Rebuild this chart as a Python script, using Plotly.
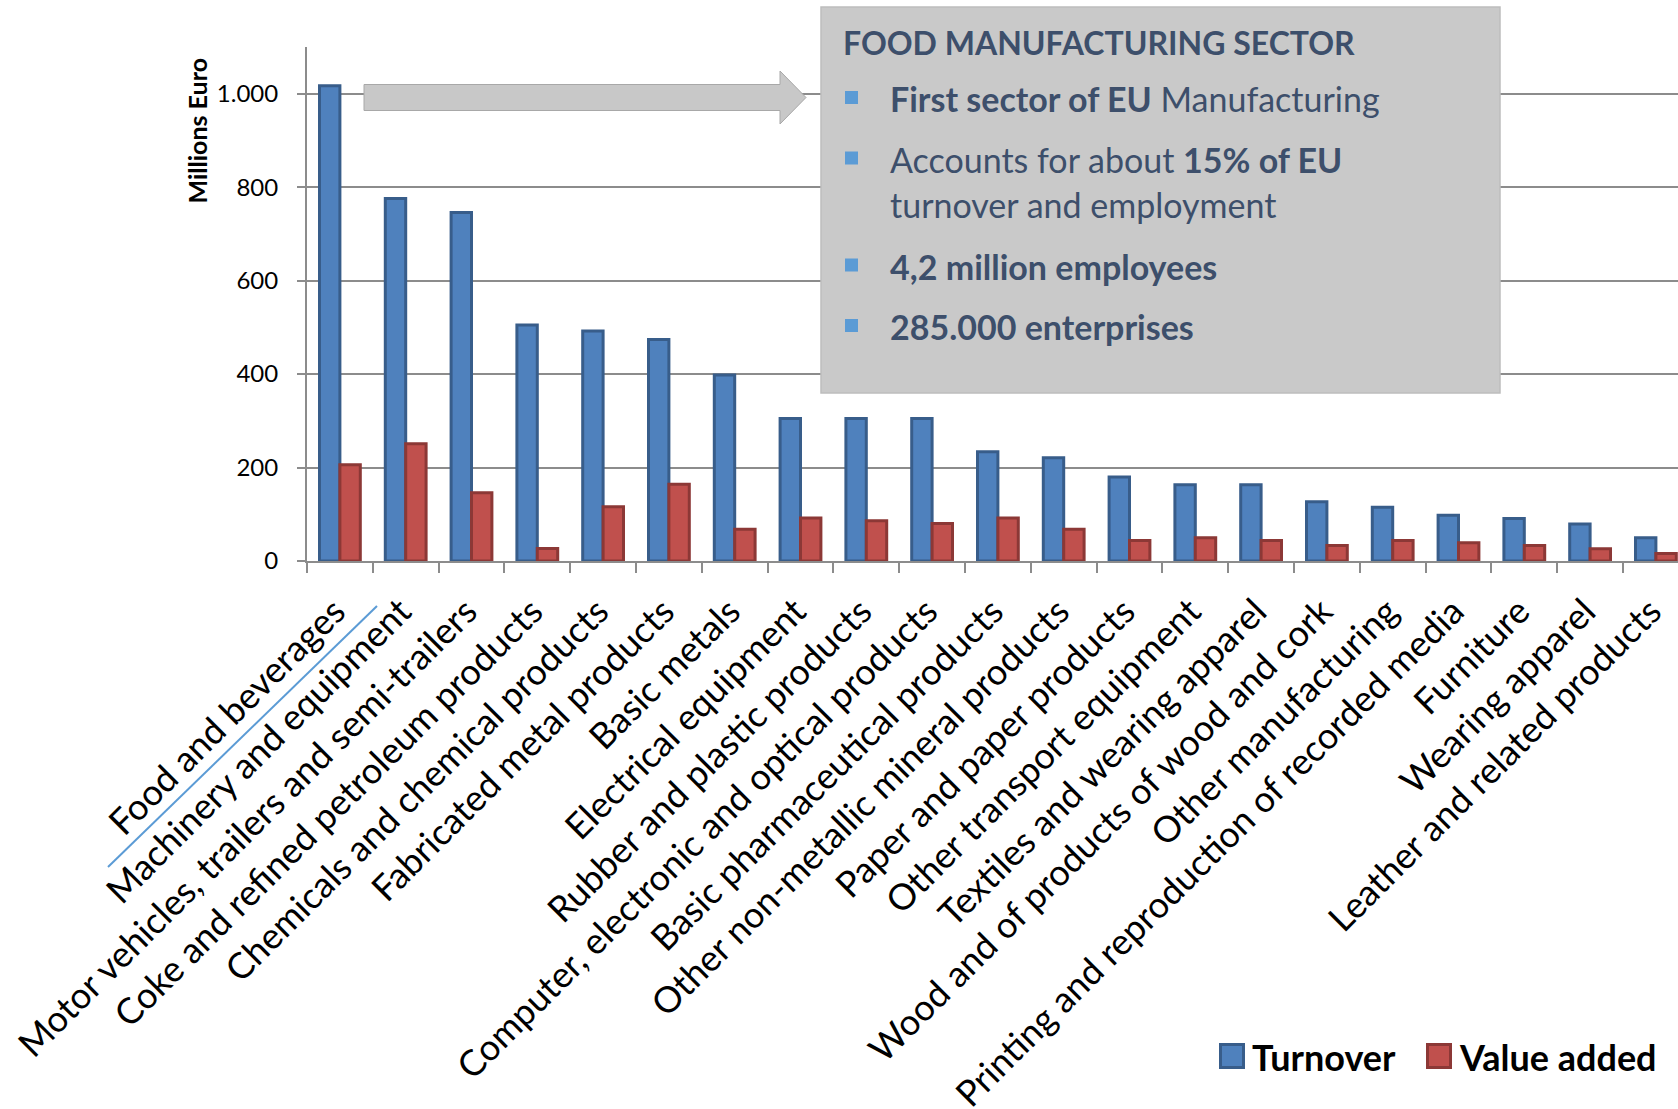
import plotly.graph_objects as go

# EU manufacturing sectors, turnover and value added (millions euro)
sectors = [
    "Food and beverages",
    "Machinery and equipment",
    "Motor vehicles, trailers and semi-trailers",
    "Coke and refined petroleum products",
    "Chemicals and chemical products",
    "Fabricated metal products",
    "Basic metals",
    "Electrical equipment",
    "Rubber and plastic products",
    "Computer, electronic and optical products",
    "Basic pharmaceutical products",
    "Other non-metallic mineral products",
    "Paper and paper products",
    "Other transport equipment",
    "Textiles and wearing apparel",
    "Wood and of products of wood and cork",
    "Other manufacturing",
    "Printing and reproduction of recorded media",
    "Furniture",
    "Wearing apparel",
    "Leather and related products",
]
turnover = [1017, 776, 746, 505, 492, 474, 398, 305, 305, 305, 234, 221,
            180, 163, 163, 127, 115, 98, 91, 79, 50]
value_added = [206, 251, 146, 27, 116, 164, 68, 92, 86, 80, 92, 68,
               44, 50, 44, 33, 44, 39, 33, 26, 16]

series_names = ["Turnover", "Value added"]
y_ticks = [0, 200, 400, 600, 800, 1000]

box_title = "FOOD MANUFACTURING SECTOR"
box_lines = [
    "<b>First sector of EU</b> Manufacturing",
    "Accounts for about <b>15% of EU</b>",
    "turnover and employment",
    "<b>4,2 million employees</b>",
    "<b>285.000 enterprises</b>",
]

BLUE, BLUE_EDGE = "#4f81bd", "#385d8a"
RED, RED_EDGE = "#c0504d", "#8c3836"
GRID = "#8c8c8c"
BOX_TEXT = "#3d4f6b"
FONT = "Lato"

W, H = 1678, 1109
L, R, T, B = 307, 1678, 47, 561


def px(x):
    return (x - L) / (R - L)


def py(y):
    return (B - y) / (B - T)


fig = go.Figure()
fig.add_trace(go.Bar(x=sectors, y=turnover, name=series_names[0],
                     marker=dict(color=BLUE, line=dict(color=BLUE_EDGE, width=3))))
fig.add_trace(go.Bar(x=sectors, y=value_added, name=series_names[1],
                     marker=dict(color=RED, line=dict(color=RED_EDGE, width=3))))

shapes = []
annotations = []

# grey block arrow pointing to the info box
ax0, ax1, ax2 = 364, 780, 806
by0, by1, hy0, hy1, ty = 84.5, 110.5, 71, 124, 97.5
path = (f"M {px(ax0)},{py(by0)} L {px(ax1)},{py(by0)} L {px(ax1)},{py(hy0)} "
        f"L {px(ax2)},{py(ty)} L {px(ax1)},{py(hy1)} L {px(ax1)},{py(by1)} "
        f"L {px(ax0)},{py(by1)} Z")
shapes.append(dict(type="path", path=path, xref="paper", yref="paper",
                   fillcolor="#c8c8c8", line=dict(color="#a8a8a8", width=1),
                   layer="above"))

# info box
shapes.append(dict(type="rect", xref="paper", yref="paper",
                   x0=px(821), x1=px(1500), y0=py(393), y1=py(7),
                   fillcolor="#c9c9c9", line=dict(color="#bdbdbd", width=1.5),
                   layer="above"))

annotations.append(dict(text=f"<b>{box_title}</b>", xref="paper", yref="paper",
                        x=px(841), y=py(42), xanchor="left", yanchor="middle",
                        showarrow=False,
                        font=dict(family=FONT, size=32, color=BOX_TEXT)))

line_y = [98.5, 159, 204, 266, 326.5]
bullet_rows = [0, 1, 3, 4]
for i, (txt, yy) in enumerate(zip(box_lines, line_y)):
    annotations.append(dict(text=txt, xref="paper", yref="paper",
                            x=px(888), y=py(yy), xanchor="left", yanchor="middle",
                            showarrow=False,
                            font=dict(family=FONT, size=34, color=BOX_TEXT)))
    if i in bullet_rows:
        shapes.append(dict(type="rect", xref="paper", yref="paper",
                           x0=px(845), x1=px(858), y0=py(yy + 5.5), y1=py(yy - 7.5),
                           fillcolor="#5b9bd5", line=dict(width=0), layer="above"))

# underline for the food sector label
shapes.append(dict(type="line", xref="paper", yref="paper",
                   x0=px(108), y0=py(867), x1=px(377), y1=py(606),
                   line=dict(color="#5b9bd5", width=2), layer="above"))

# y axis title
annotations.append(dict(text="<b>Millions Euro</b>", xref="paper", yref="paper",
                        x=px(196), y=py(130.5), textangle=-90,
                        xanchor="center", yanchor="middle", showarrow=False,
                        font=dict(family=FONT, size=25, color="black")))

# legend
legend_items = [(1219, BLUE, BLUE_EDGE, series_names[0]),
                (1426, RED, RED_EDGE, series_names[1])]
for x0, fill, edge, name in legend_items:
    shapes.append(dict(type="rect", xref="paper", yref="paper",
                       x0=px(x0 + 1.5), x1=px(x0 + 24.5), y0=py(1067.5), y1=py(1044.5),
                       fillcolor=fill, line=dict(color=edge, width=3), layer="above"))
    annotations.append(dict(text=f"<b>{name}</b>", xref="paper", yref="paper",
                            x=px(x0 + 31), y=py(1057), xanchor="left", yanchor="middle",
                            showarrow=False,
                            font=dict(family=FONT, size=36, color="black")))

fig.update_layout(
    width=W, height=H,
    margin=dict(l=L, r=W - R, t=T, b=H - B),
    paper_bgcolor="white", plot_bgcolor="white",
    barmode="group", bargap=0.38, bargroupgap=0,
    showlegend=False,
    separators=",.",
    font=dict(family=FONT, color="black"),
    shapes=shapes, annotations=annotations,
    xaxis=dict(
        type="category", range=[-0.5, -0.5 + (R - L) / 65.8],
        tickangle=-45, tickfont=dict(family=FONT, size=36, color="black"),
        tickson="boundaries", ticks="outside", ticklen=10, tickwidth=2,
        tickcolor=GRID, showline=True, linecolor=GRID, linewidth=2,
        ticklabelstandoff=13, ticklabelshift=-5,
        showgrid=False, automargin=False,
    ),
    yaxis=dict(
        range=[0, 1100], tickvals=y_ticks, tickformat=",d",
        tickfont=dict(family=FONT, size=24, color="black"),
        ticks="outside", ticklen=8, tickwidth=2, tickcolor=GRID,
        ticklabelstandoff=14,
        showline=True, linecolor=GRID, linewidth=2,
        showgrid=True, gridcolor=GRID, gridwidth=2,
        zeroline=False, automargin=False,
    ),
)

fig.write_html("out.html")
